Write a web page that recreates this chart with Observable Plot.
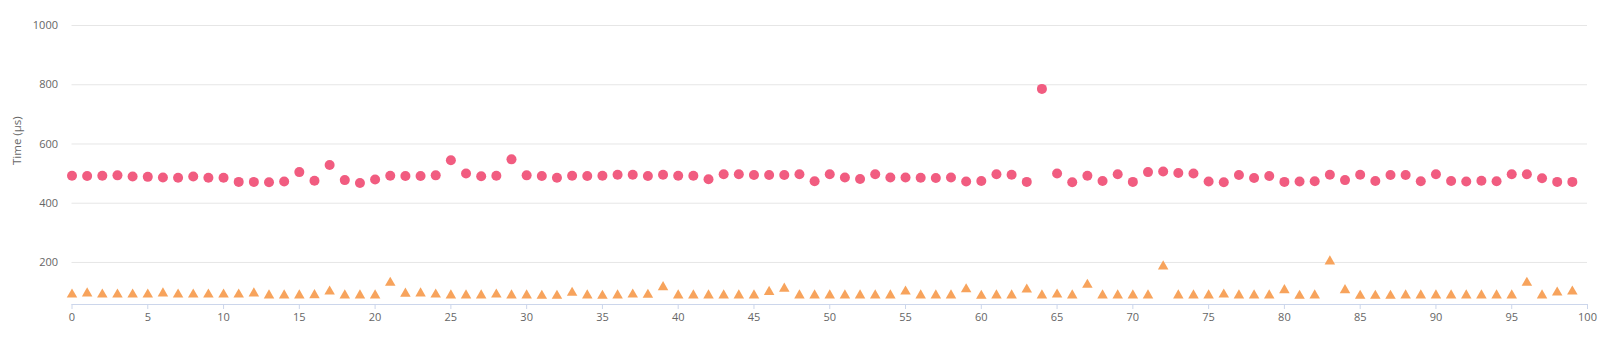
<!DOCTYPE html>
<html>
<head>
<meta charset="utf-8">
<script src="https://cdn.jsdelivr.net/npm/d3@7"></script>
<script src="https://cdn.jsdelivr.net/npm/@observablehq/plot@0.6"></script>
<style>
  html, body { margin: 0; padding: 0; background: #ffffff; }
  #chart svg { display: block; }
</style>
</head>
<body>
<div id="chart"></div>
<script>
// Circle series (pink) values, index 0..99
const circleValues = [
  493,492,493,494,490,489,487,486,490,486,
  486,472,472,471,473,505,476,529,478,468,
  480,493,492,492,494,545,500,491,493,548,
  494,492,486,493,492,493,496,496,492,496,
  493,493,481,498,498,495,495,495,498,474,
  498,487,482,498,487,487,486,485,487,473,
  475,498,496,472,786,500,471,493,475,498,
  472,505,507,502,500,473,471,495,485,492,
  472,473,474,496,478,496,475,495,495,474,
  498,475,473,476,474,498,498,484,472,472
];
// Triangle series (orange) values, index 0..99
const triangleValues = [
  96,100,96,96,96,96,100,96,96,96,
  96,96,100,93,93,93,94,106,93,93,
  93,136,99,100,96,93,93,93,96,93,
  93,92,92,102,93,92,93,96,95,121,
  93,93,93,93,93,93,105,116,93,93,
  93,93,93,93,93,106,93,93,93,114,
  92,93,93,113,93,96,93,129,93,93,
  93,93,191,93,93,93,96,93,93,93,
  111,92,93,208,111,92,92,92,93,93,
  93,93,93,93,93,93,136,93,103,106
];
const yTicks = [200, 400, 600, 800, 1000];
const xTicks = [0,5,10,15,20,25,30,35,40,45,50,55,60,65,70,75,80,85,90,95,100];
const yTitle = "Time (µs)";

const circles = circleValues.map((v, i) => ({x: i, y: v}));
const triangles = triangleValues.map((v, i) => ({x: i, y: v}));

const yDomain = [58, 1000];
const xDomain = [0, 100];

const chart = Plot.plot({
  width: 1600,
  height: 364,
  marginLeft: 71.5,
  marginRight: 13,
  marginTop: 25,
  marginBottom: 60,
  style: {fontFamily: "'Open Sans', sans-serif", fontSize: "11px", color: "#666666", background: "#ffffff"},
  x: {domain: xDomain},
  y: {domain: yDomain},
  marks: [
    Plot.ruleY(yTicks, {stroke: "#e6e6e6", strokeWidth: 1}),
    Plot.axisY({ticks: yTicks, tickSize: 0, tickPadding: 14, fill: "#666666", fontSize: 11, label: null, tickFormat: d3.format("d")}),
    Plot.text([yTitle], {frameAnchor: "left", dx: -55, rotate: -90, fill: "#666666", fontSize: 11.5}),
    Plot.ruleY([yDomain[0]], {stroke: "#ccd6eb", strokeWidth: 1}),
    Plot.axisX({ticks: xTicks, tickSize: 5, tickPadding: 4, stroke: "#ccd6eb", fill: "#666666", fontSize: 11, label: null, tickFormat: d3.format("d")}),
    Plot.dot(circles, {x: "x", y: "y", r: 5, symbol: "circle", fill: "#f15c80", stroke: "none"}),
    Plot.dot(triangles, {x: "x", y: "y", r: 3.9, symbol: "triangle", fill: "#f7a35c", stroke: "none", dy: 1.3})
  ]
});
document.getElementById("chart").appendChild(chart);
</script>
</body>
</html>
